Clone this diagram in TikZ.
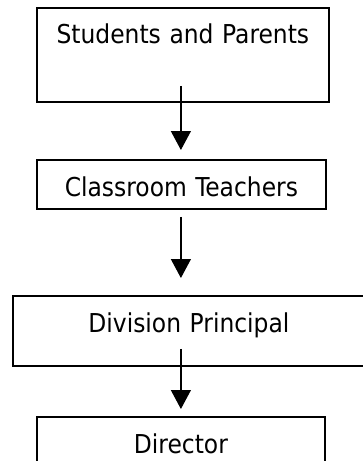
\documentclass[tikz,border=0pt]{standalone}
\usepackage{fontspec}
\setmainfont{DejaVu Sans Condensed}
\usetikzlibrary{arrows.meta}
\tikzset{
  box/.style={draw, line width=1.8pt, inner sep=0pt, align=center, anchor=north west,
    font=\fontsize{26}{30}\selectfont},
  arr/.style={line width=1.3pt, -{Triangle[length=19pt,width=20pt]}}
}
\begin{document}
\begin{tikzpicture}[x=1pt,y=-1pt]
\useasboundingbox (0,0) rectangle (363,461);
\clip (0,0) rectangle (363,461);
\node[box, text width=292pt, text height=36pt, text depth=58pt] (sp) at (36,7) {Students and Parents};
\node[box, text width=289pt, text height=37pt, text depth=12pt] (ct) at (36,159) {Classroom Teachers};
\node[box, text width=352pt, text height=37pt, text depth=33pt] (dp) at (12,295) {Division Principal};
\node[box, text width=288pt, text height=37pt, text depth=40pt] (dr) at (36,416) {Director};
\coordinate (a1s) at ([xshift=-2pt,yshift=17pt]sp.south);
\coordinate (a1e) at ([xshift=-0.5pt,yshift=9pt]ct.north);
\coordinate (a2s) at ([xshift=-0.5pt,yshift=-7pt]ct.south);
\coordinate (a2e) at ([xshift=-8pt,yshift=17pt]dp.north);
\coordinate (a3s) at ([xshift=-8pt,yshift=18pt]dp.south);
\coordinate (a3e) at ([yshift=7pt]dr.north);
\draw[arr] (a1s) -- (a1e);
\draw[arr] (a2s) -- (a2e);
\draw[arr] (a3s) -- (a3e);
\end{tikzpicture}
\end{document}
